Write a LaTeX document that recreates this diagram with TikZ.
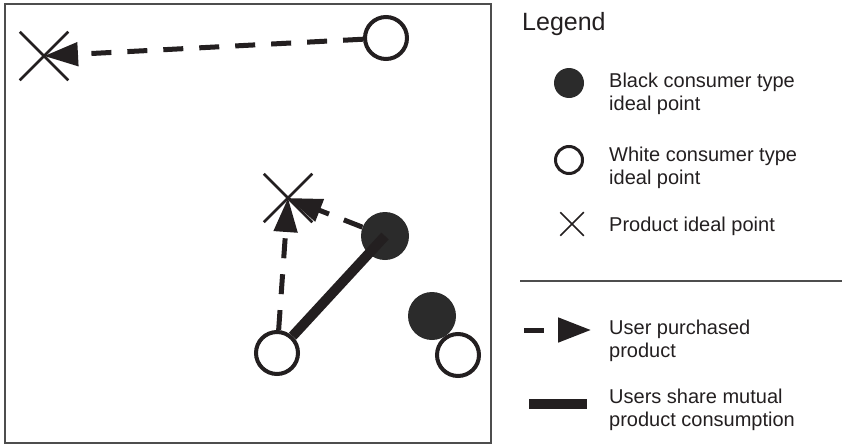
\documentclass[tikz,border=0pt]{standalone}
\usepackage{fontspec}
\setmainfont{Liberation Sans}
\usetikzlibrary{arrows.meta,shapes.misc}
\definecolor{ink}{HTML}{231F20}
\definecolor{dotfill}{HTML}{2B2B2B}
\definecolor{framegray}{HTML}{4D4D4D}
\begin{document}
\begin{tikzpicture}[x=1pt,y=-1pt,
  whitept/.style={circle,draw=ink,fill=white,line width=4pt,minimum size=42pt,inner sep=0pt},
  blackpt/.style={circle,fill=dotfill,minimum size=48pt,inner sep=0pt},
  productpt/.style={cross out,draw=ink,line width=2.5pt,minimum size=46pt,inner sep=0pt},
  purchase/.style={draw=ink,line width=5pt,dash pattern=on 20pt off 16pt,-{Triangle[length=34pt,width=23pt]}},
  mutual/.style={draw=ink,line width=10pt},
  legtext/.style={anchor=base west,align=left,inner sep=0pt,font=\fontsize{20}{23}\selectfont,text=ink}
]
\useasboundingbox (0,0) rectangle (842,447);

% plot frame
\draw[framegray,line width=1.5pt] (5,4) rectangle (491,443);

% ideal points
\node[productpt] (p1) at (44,56) {};
\node[whitept] (w1) at (386,38) {};
\node[productpt] (p2) at (288,198) {};
\node[blackpt] (b1) at (385,236) {};
\node[blackpt] (b2) at (432,316) {};
\node[whitept] (w2) at (277,353) {};
\node[whitept] (w3) at (458,355) {};

% purchases and shared consumption
\draw[purchase] (w1) -- (p1.center);
\draw[purchase] (w2) -- (p2.center);
\draw[purchase] (b1) -- (p2.center);
\draw[mutual] (w2) -- (b1.center);

% legend (multi-line labels are placed by the baseline of their last line)
\node[anchor=base west,inner sep=0pt,font=\fontsize{25}{28}\selectfont,text=ink] (title) at (522,30) {Legend};

\node[blackpt,minimum size=30pt] (lb) at (569,83) {};
\node[legtext] (tb) at (609,110) {Black consumer type\\ideal point};

\node[whitept,line width=3pt,minimum size=27pt] (lw) at (569,160) {};
\node[legtext] (tw) at (609,184) {White consumer type\\ideal point};

\node[productpt,line width=1.5pt,minimum size=22pt] (lx) at (572,224) {};
\node[legtext] (tx) at (609,231) {Product ideal point};

\coordinate (sepL) at (520,281);
\coordinate (sepR) at (842,281);
\draw[framegray,line width=1.2pt] (sepL) -- (sepR);

\coordinate (paL) at (524,330);
\coordinate (paR) at (591,330);
\draw[purchase,dash pattern=on 20pt off 14pt,-{Triangle[length=33pt,width=24pt]}] (paL) -- (paR);
\node[legtext] (tp) at (609,357) {User purchased\\product};

\coordinate (muL) at (529,404);
\coordinate (muR) at (587,404);
\draw[mutual] (muL) -- (muR);
\node[legtext] (tm) at (609,426) {Users share mutual\\product consumption};
\end{tikzpicture}
\end{document}
